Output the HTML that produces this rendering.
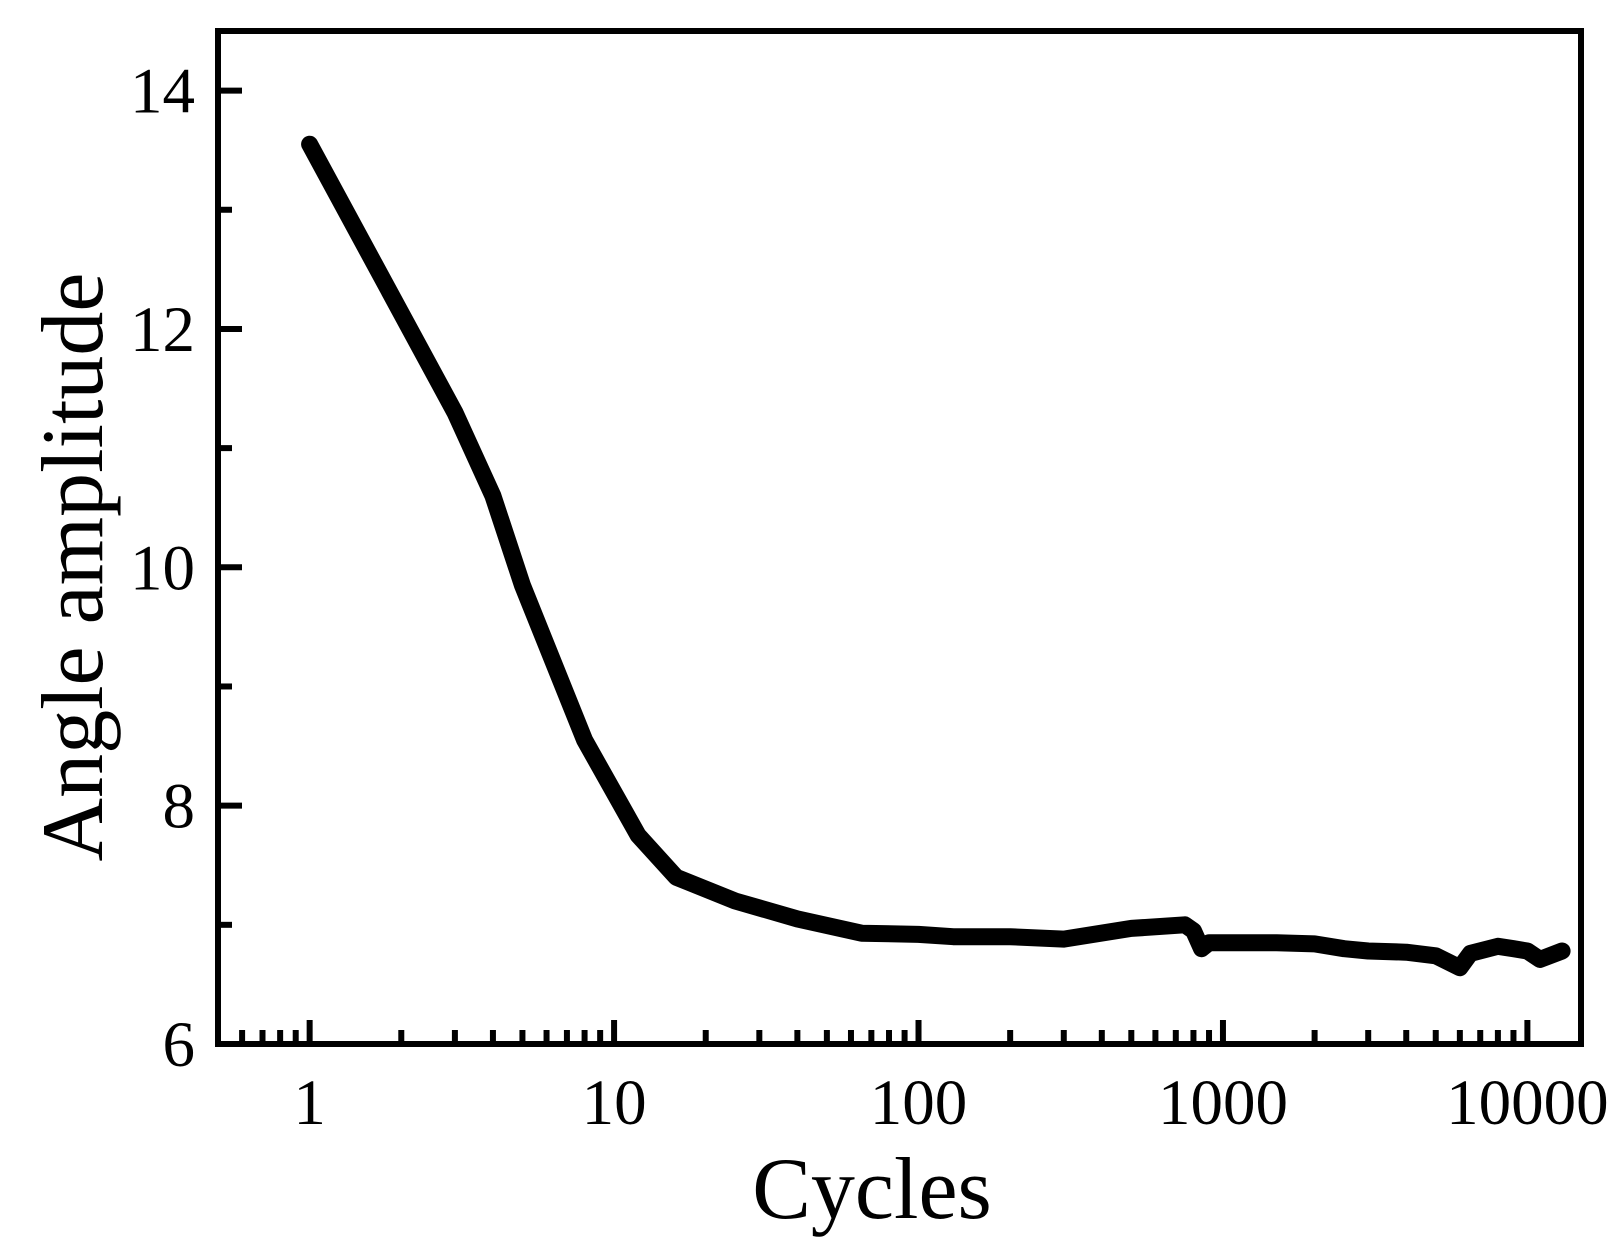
<!DOCTYPE html>
<html><head><meta charset="utf-8"><style>
html,body{margin:0;padding:0;background:#fff;}
svg{display:block;font-family:"Liberation Serif",serif;}
</style></head><body>
<svg id="chart" width="1623" height="1250" xmlns="http://www.w3.org/2000/svg">
<g id="ticks"></g>
<path id="series" fill="none" stroke="#000" stroke-width="17" stroke-linejoin="round" stroke-linecap="round"/>
<rect x="218" y="31" width="1363" height="1013" fill="none" stroke="#000" stroke-width="6"/>
<text x="872" y="1218" font-size="88" text-anchor="middle">Cycles</text>
<text transform="translate(102,567) rotate(-90)" font-size="88" text-anchor="middle">Angle amplitude</text>
</svg>
<script>
const cycles=[1,3,4,5,8,12,16,25,40,65,100,130,200,300,500,750,800,850,900,1200,1500,2000,2500,3000,4000,5000,6000,6500,8000,9000,10000,11000,13000];
const amplitude=[13.55,11.3,10.6,9.85,8.55,7.75,7.4,7.2,7.05,6.93,6.92,6.9,6.9,6.88,6.97,7.0,6.95,6.8,6.85,6.85,6.85,6.84,6.8,6.78,6.77,6.74,6.64,6.76,6.82,6.8,6.78,6.71,6.78];
const xTicks=[1,10,100,1000,10000];
const xTickLabels=["1","10","100","1000","10000"];
const yTicks=[6,8,10,12,14];
const yTickLabels=["6","8","10","12","14"];
const X0=218,X1=1581,Y0=1044,Y1=31,xmin=Math.log10(0.5),xmax=Math.log10(15000),ymin=6,ymax=14.5;
function xs(v){return X0+(Math.log10(v)-xmin)/(xmax-xmin)*(X1-X0);}
function ys(v){return Y0-(v-ymin)/(ymax-ymin)*(Y0-Y1);}
const NS="http://www.w3.org/2000/svg";
const g=document.getElementById('ticks');
function line(x1,y1,x2,y2,name){const l=document.createElementNS(NS,'line');
l.setAttribute('x1',x1);l.setAttribute('y1',y1);l.setAttribute('x2',x2);l.setAttribute('y2',y2);
l.setAttribute('stroke','#000');l.setAttribute('stroke-width','6');


g.appendChild(l);}
function text(x,y,s,anchor,name){const t=document.createElementNS(NS,'text');
t.setAttribute('x',x);t.setAttribute('y',y);t.setAttribute('font-size','65');t.setAttribute('text-anchor',anchor);t.textContent=s;


g.appendChild(t);}
for(let d=-1;d<=4;d++){for(let k=1;k<=9;k++){const v=k*Math.pow(10,d);if(v<0.5||v>15000)continue;
const x=xs(v);if(k==1)line(x,Y0,x,Y0-24,'x-major-tick');else line(x,Y0,x,Y0-14,'x-minor-tick');}}
xTicks.forEach((v,i)=>text(xs(v),1124,xTickLabels[i],'middle','x-tick-label'));
yTicks.forEach((v,i)=>{line(X0,ys(v),X0+24,ys(v),'y-major-tick');text(195,ys(v)+22,yTickLabels[i],'end','y-tick-label');});
for(let v=7;v<=13;v+=2)line(X0,ys(v),X0+14,ys(v),'y-minor-tick');
document.getElementById('series').setAttribute('d',cycles.map((c,i)=>(i?'L':'M')+xs(c).toFixed(1)+','+ys(amplitude[i]).toFixed(1)).join(''));
</script>
</body></html>
